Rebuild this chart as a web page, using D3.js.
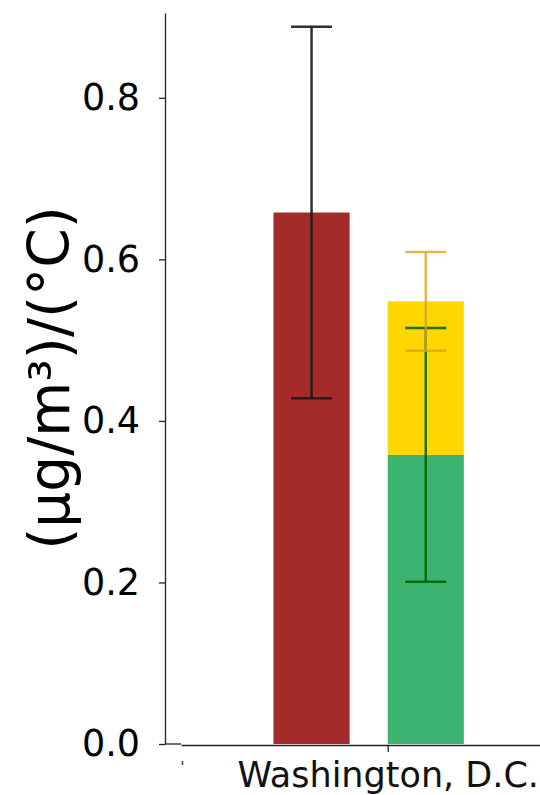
<!DOCTYPE html>
<html>
<head>
<meta charset="utf-8">
<script src="https://cdn.jsdelivr.net/npm/d3@7"></script>
<style>
  html, body { margin: 0; padding: 0; background: #fff; }
  svg { display: block; font-family: "DejaVu Sans", sans-serif; }
</style>
</head>
<body>
<svg id="chart" width="540" height="795"></svg>
<script>
// Temperature sensitivity of PM2.5, one city
const cities = ["Washington, D.C."];
const observedValue = [0.658];
const observedErr = [0.23];
const greenValue = [0.358];   // lower stacked component
const greenErr = [0.157];
const yellowValue = [0.19];   // upper stacked component
const yellowErr = [0.061];
const yTicks = [0.0, 0.2, 0.4, 0.6, 0.8];
const yLabel = "(µg/m³)/(°C)";

const colors = {
  observed: "#A52A2A",
  green: "#3CB371",
  yellow: "#FFD700",
  observedErr: "#1a1a1a",
  greenErr: "#006400",
  yellowErr: "goldenrod"
};

const svg = d3.select("#chart");

const y = d3.scaleLinear().domain([0, 0.905]).range([744, 13]);
// category axis in data units; category index 0 sits at the tick
const x = d3.scaleLinear().domain([-0.95, 0.7]).range([181, 540]);
const barW = x(0.35) - x(0);
const capHalf = 20.5;

// bars
cities.forEach((c, i) => {
  const redCx = x(i) - barW;
  const stackCx = x(i) + barW / 2;

  svg.append("rect")
    .attr("x", redCx - barW / 2).attr("width", barW)
    .attr("y", y(observedValue[i])).attr("height", y(0) - y(observedValue[i]))
    .attr("fill", colors.observed);

  svg.append("rect")
    .attr("x", stackCx - barW / 2).attr("width", barW)
    .attr("y", y(greenValue[i])).attr("height", y(0) - y(greenValue[i]))
    .attr("fill", colors.green);

  const top = greenValue[i] + yellowValue[i];
  svg.append("rect")
    .attr("x", stackCx - barW / 2).attr("width", barW)
    .attr("y", y(top)).attr("height", y(greenValue[i]) - y(top))
    .attr("fill", colors.yellow);

  function errorBar(cx, v, e, color, opacity) {
    const g = svg.append("g")
      .attr("stroke", color).attr("stroke-width", 2.5)
      .attr("stroke-opacity", opacity).attr("fill", "none");
    g.append("line").attr("x1", cx).attr("x2", cx)
      .attr("y1", y(v + e)).attr("y2", y(v - e));
    g.append("line").attr("x1", cx - capHalf).attr("x2", cx + capHalf)
      .attr("y1", y(v + e)).attr("y2", y(v + e));
    g.append("line").attr("x1", cx - capHalf).attr("x2", cx + capHalf)
      .attr("y1", y(v - e)).attr("y2", y(v - e));
  }
  errorBar(redCx, observedValue[i], observedErr[i], colors.observedErr, 0.9);
  errorBar(stackCx, greenValue[i], greenErr[i], colors.greenErr, 0.9);
  errorBar(stackCx, top, yellowErr[i], colors.yellowErr, 0.8);
});

// y axis
const yAxis = svg.append("g")
  .attr("transform", "translate(165,0)")
  .call(d3.axisLeft(y).tickValues(yTicks).tickFormat(d3.format(".1f"))
    .tickSize(6).tickPadding(19).tickSizeOuter(0));
yAxis.select(".domain").attr("stroke", "#222").attr("stroke-width", 1.3);
yAxis.selectAll(".tick line").attr("stroke", "#222").attr("stroke-width", 1.3);
yAxis.selectAll(".tick text")
  .attr("fill", "#000").style("font-size", "36.5px")
  .style("font-family", "'DejaVu Sans', sans-serif");

// short stub joining the two spines
svg.append("line")
  .attr("x1", 165).attr("x2", 181).attr("y1", 744).attr("y2", 744)
  .attr("stroke", "#222").attr("stroke-width", 1.3);

// x axis
const xAxis = svg.append("g")
  .attr("transform", "translate(0,745)")
  .call(d3.axisBottom(x).tickValues(cities.map((c, i) => i))
    .tickFormat(i => cities[i]).tickSize(7).tickPadding(10).tickSizeOuter(0));
xAxis.select(".domain").attr("stroke", "#222").attr("stroke-width", 1.3);
xAxis.selectAll(".tick line").attr("stroke", "#222").attr("stroke-width", 1.3);
xAxis.selectAll(".tick text")
  .attr("fill", "#111").style("font-size", "35px")
  .style("font-family", "'DejaVu Sans', sans-serif");

// small mark at the left end of the category axis
svg.append("line")
  .attr("x1", 182.5).attr("x2", 182.5).attr("y1", 761).attr("y2", 765)
  .attr("stroke", "#444").attr("stroke-width", 1.5);

// y axis title
svg.append("text")
  .attr("transform", "translate(69,378) rotate(-90)")
  .attr("text-anchor", "middle")
  .style("font-size", "56.5px")
  .attr("fill", "#000")
  .text(yLabel);
</script>
</body>
</html>
